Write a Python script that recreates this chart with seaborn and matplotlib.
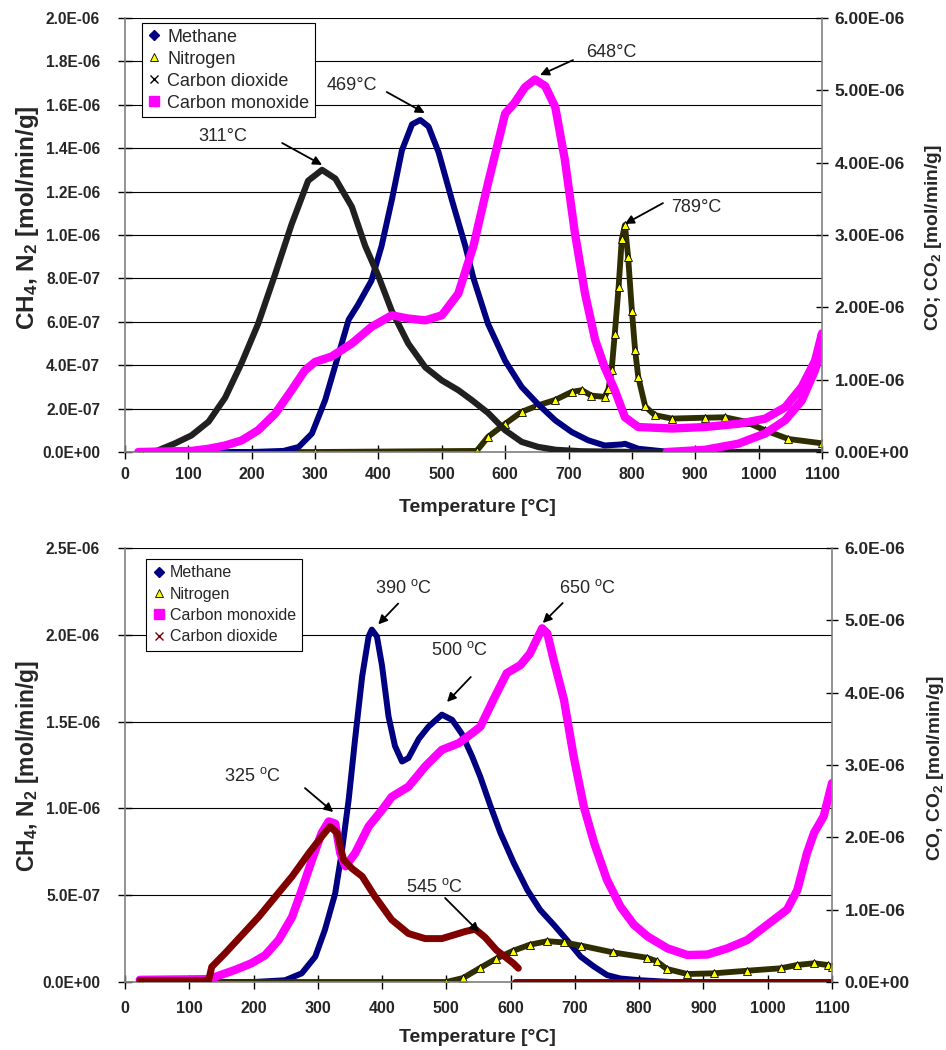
import numpy as np
import matplotlib
matplotlib.use("Agg")
import matplotlib.pyplot as plt
import seaborn as sns
from matplotlib.lines import Line2D
from matplotlib.ticker import FuncFormatter

sns.set_style("white")
plt.rcParams['font.family'] = ['Liberation Sans', 'DejaVu Sans']
plt.rcParams['mathtext.fontset'] = 'custom'
plt.rcParams['mathtext.rm'] = 'Liberation Sans'
plt.rcParams['mathtext.bf'] = 'Liberation Sans:bold'
plt.rcParams['mathtext.it'] = 'Liberation Sans:italic'

# ---------------- data: top chart (values in 1e-6 mol/min/g) ----------------
t_ch4_top = [25, 100, 200, 250, 274, 295, 316, 337, 353, 368, 389, 405, 421, 437, 453, 466, 479,
             495, 516, 537, 550, 573, 600, 626, 652, 679, 705, 731, 757, 784, 789, 810, 850, 950, 1100]
ch4_top = [0, 0, 0, 0.005, 0.023, 0.085, 0.24, 0.45, 0.61, 0.68, 0.79, 0.95, 1.16, 1.39, 1.51, 1.53, 1.50,
           1.38, 1.16, 0.95, 0.80, 0.59, 0.42, 0.30, 0.22, 0.146, 0.092, 0.054, 0.03, 0.035, 0.038, 0.015, 0.003, 0, 0]

t_n2_top = [25, 300, 555, 573, 600, 626, 652, 679, 705, 721, 736, 757, 763, 768, 773, 779, 784, 789, 794,
            800, 805, 810, 821, 836, 863, 915, 947, 979, 1010, 1047, 1100]
n2_top = [0, 0, 0.005, 0.07, 0.13, 0.185, 0.215, 0.24, 0.277, 0.285, 0.26, 0.254, 0.29, 0.377, 0.546, 0.76,
          0.98, 1.046, 0.90, 0.65, 0.47, 0.346, 0.21, 0.17, 0.154, 0.158, 0.16, 0.14, 0.10, 0.06, 0.04]

t_co2_top = [25, 50, 79, 105, 132, 158, 184, 210, 237, 263, 289, 311, 332, 358, 379, 400, 421, 447, 474,
             500, 526, 547, 573, 600, 626, 652, 680, 720, 800, 900, 1000, 1100]
co2_top = [0, 0.015, 0.12, 0.23, 0.42, 0.75, 1.23, 1.77, 2.46, 3.15, 3.75, 3.90, 3.78, 3.39, 2.85, 2.43,
           1.95, 1.50, 1.17, 0.99, 0.855, 0.72, 0.54, 0.30, 0.14, 0.07, 0.03, 0.01, 0, 0, 0, 0]

t_co_top = [21, 105, 132, 158, 184, 210, 237, 263, 284, 300, 326, 358, 389, 421, 447, 474, 500, 526, 550,
            573, 600, 615, 631, 647, 663, 679, 694, 710, 726, 742, 757, 773, 789, 810, 863, 915, 968, 1010,
            1042, 1068, 1089, 1100,
            1100, 1089, 1068, 1042, 1010, 968, 915, 855]
co_top = [0, 0.015, 0.045, 0.09, 0.16, 0.30, 0.53, 0.855, 1.13, 1.245, 1.32, 1.50, 1.73, 1.89, 1.845, 1.82,
          1.89, 2.19, 2.85, 3.72, 4.68, 4.83, 5.04, 5.15, 5.06, 4.77, 4.05, 3.03, 2.19, 1.55, 1.17, 0.855,
          0.48, 0.345, 0.325, 0.345, 0.39, 0.46, 0.62, 0.90, 1.26, 1.64,
          1.455, 1.13, 0.71, 0.44, 0.255, 0.115, 0.03, 0]

# ---------------- data: bottom chart ----------------
t_ch4_bot = [25, 200, 249, 275, 296, 311, 327, 337, 348, 358, 369, 379, 384, 392, 400, 410, 420, 431, 441,
             457, 472, 493, 509, 524, 540, 553, 569, 584, 605, 626, 646, 667, 688, 709, 730, 750, 771, 802,
             850, 1100]
ch4_bot = [0, 0, 0.01, 0.05, 0.146, 0.30, 0.51, 0.74, 1.05, 1.40, 1.76, 1.99, 2.03, 1.99, 1.82, 1.53, 1.36,
           1.27, 1.29, 1.40, 1.47, 1.54, 1.51, 1.43, 1.30, 1.18, 1.01, 0.86, 0.685, 0.53, 0.415, 0.33, 0.24,
           0.146, 0.088, 0.04, 0.02, 0.01, 0, 0]

t_n2_bot = [25, 500, 526, 552, 578, 604, 630, 657, 683, 709, 760, 812, 827, 843, 875, 916, 968, 1020, 1046,
            1072, 1093, 1100]
n2_bot = [0, 0, 0.023, 0.08, 0.135, 0.18, 0.215, 0.235, 0.228, 0.21, 0.17, 0.14, 0.12, 0.075, 0.046, 0.05,
          0.065, 0.079, 0.098, 0.108, 0.098, 0.088]

t_co_bot = [23, 135, 140, 171, 197, 218, 239, 260, 275, 291, 306, 317, 327, 335, 343, 358, 379, 400, 415,
            441, 467, 493, 519, 540, 553, 573, 594, 615, 630, 649, 657, 667, 683, 698, 714, 730, 750, 771,
            792, 813, 844, 875, 906, 937, 968, 999, 1030, 1046, 1061, 1072, 1087, 1100]
co_bot = [0.03, 0.04, 0.07, 0.166, 0.26, 0.37, 0.58, 0.90, 1.27, 1.69, 2.06, 2.22, 2.19, 1.78, 1.60, 1.78,
          2.15, 2.38, 2.56, 2.70, 2.98, 3.21, 3.30, 3.44, 3.53, 3.90, 4.27, 4.38, 4.54, 4.89, 4.82, 4.45,
          3.90, 3.12, 2.42, 1.92, 1.41, 1.04, 0.79, 0.63, 0.465, 0.373, 0.38, 0.465, 0.58, 0.79, 1.0, 1.27,
          1.78, 2.06, 2.29, 2.75]

t_co2_bot = [23, 130, 135, 156, 182, 208, 234, 260, 286, 306, 319, 330, 340, 353, 369, 389, 415, 441, 467,
             493, 519, 530, 545, 560, 578, 604, 612]
co2_bot = [0.02, 0.02, 0.21, 0.40, 0.65, 0.90, 1.18, 1.46, 1.78, 2.01, 2.15, 2.06, 1.69, 1.57, 1.46, 1.18,
           0.86, 0.67, 0.60, 0.60, 0.67, 0.70, 0.73, 0.62, 0.44, 0.26, 0.19]
t_co2_bot_tail = [607, 1100]
co2_bot_tail = [0, 0]

x_ticks = list(range(0, 1101, 100))
legend_top = ["Methane", "Nitrogen", "Carbon dioxide", "Carbon monoxide"]
legend_bot = ["Methane", "Nitrogen", "Carbon monoxide", "Carbon dioxide"]

NAVY, MAG, DRED = "#000080", "#FF00FF", "#800000"
N2LINE = "#2e2e00"
GRAY = "#808080"
S = 1e-6


def draw(ax, t, v, color, lw, **kw):
    sns.lineplot(x=np.array(t, float), y=np.array(v, float) * S, ax=ax, color=color, linewidth=lw,
                 sort=False, estimator=None, legend=False, **kw)


def n2_style():
    return dict(marker='^', markersize=6, markerfacecolor='#FFFF00', markeredgecolor='black',
                markeredgewidth=0.6)


def style_axes(ax, ax2, ymax_l, ystep_l, fmt_l, fmt_r, rsize, xpad):
    ax.set_xlim(0, 1100)
    ax.set_xticks(x_ticks)
    ax.set_ylim(0, ymax_l)
    ax.set_yticks(np.arange(0, ymax_l + ystep_l / 2, ystep_l))
    ax2.set_ylim(0, 6e-6)
    ax2.set_yticks(np.arange(0, 6.5e-6, 1e-6))
    ax.yaxis.set_major_formatter(FuncFormatter(lambda v, p: fmt_l.format(v)))
    ax2.yaxis.set_major_formatter(FuncFormatter(lambda v, p: fmt_r.format(v)))
    ax.grid(True, axis='y', color='black', linewidth=0.8)
    ax.grid(False, axis='x')
    for a in (ax, ax2):
        for s in a.spines.values():
            s.set_visible(False)
    ax.spines['left'].set_visible(True)
    ax.spines['bottom'].set_visible(True)
    ax2.spines['right'].set_visible(True)
    for s in (ax.spines['left'], ax.spines['bottom'], ax2.spines['right']):
        s.set_color(GRAY)
        s.set_linewidth(1.2)
    ax.tick_params(axis='y', which='major', direction='inout', length=10, width=1, color='black',
                   pad=13, labelsize=11.2, left=True)
    ax.tick_params(axis='x', which='major', direction='inout', length=10, width=1, color='black',
                   pad=xpad, labelsize=11.5, bottom=True)
    ax2.tick_params(axis='y', which='major', direction='inout', length=8, width=1, color='black',
                    pad=5, labelsize=rsize, right=True)
    for lab in ax.get_xticklabels() + ax.get_yticklabels() + ax2.get_yticklabels():
        lab.set_fontweight('bold')


def annot(ax2, ax, text, txy, start, tip):
    ax2.text(txy[0], txy[1], text, transform=ax.transData, ha='center', va='center', fontsize=13)
    ax2.annotate("", xy=tip, xytext=start, xycoords=ax.transData, textcoords=ax.transData,
                 arrowprops=dict(arrowstyle='-|>', color='black', lw=1.3, mutation_scale=13,
                                 shrinkA=0, shrinkB=0))


fig = plt.figure(figsize=(9.46, 10.5), dpi=100)

# ================= TOP =================
ax = fig.add_axes([125 / 946, 1 - 452 / 1050, 697 / 946, 434 / 1050])
ax2 = ax.twinx()
draw(ax, t_n2_top, n2_top, N2LINE, 4.2, **n2_style())
draw(ax, t_ch4_top, ch4_top, NAVY, 4.3)
draw(ax2, t_co2_top, co2_top, "#202020", 4.5)
draw(ax2, t_co_top, co_top, MAG, 6.0)
style_axes(ax, ax2, 2.0e-6, 0.2e-6, "{:.1E}", "{:.2E}", 12.5, 6)

ax.set_xlabel("Temperature [°C]", fontsize=14, fontweight='bold')
ax.xaxis.set_label_coords(0.505, -0.129)
ax.xaxis.label.set_va('center')
ax.set_ylabel(r"CH$_\mathbf{4}$, N$_\mathbf{2}$ [mol/min/g]", fontsize=17.5, fontweight='bold')
ax.yaxis.set_label_coords((28 - 125) / 697, 0.539)
ax.yaxis.label.set_va('center')
ax2.set_ylabel(r"CO; CO$_\mathbf{2}$ [mol/min/g]", fontsize=13.8, fontweight='bold', rotation=90)
ax2.yaxis.set_label_coords((933 - 125) / 697, 0.493)
ax2.yaxis.label.set_va('center')

annot(ax2, ax, "311°C", (155, 1.456e-6), (248, 1.424e-6), (311, 1.323e-6))
annot(ax2, ax, "469°C", (358, 1.691e-6), (413, 1.659e-6), (473, 1.562e-6))
annot(ax2, ax, "648°C", (767, 1.843e-6), (707, 1.806e-6), (655, 1.737e-6))
annot(ax2, ax, "789°C", (901, 1.129e-6), (849, 1.147e-6), (789, 1.051e-6))

h_top = [
    Line2D([], [], ls='none', marker='D', color=NAVY, markersize=5),
    Line2D([], [], ls='none', **n2_style()),
    Line2D([], [], ls='none', marker='x', color='black', markersize=6, markeredgewidth=1),
    Line2D([], [], ls='none', marker='s', color=MAG, markersize=7),
]
leg = ax2.legend(h_top, legend_top, loc='upper left', bbox_to_anchor=(0.024, 0.988), frameon=True,
                 fancybox=False, edgecolor='black', fontsize=13, handlelength=0.8, handletextpad=0.3,
                 borderaxespad=0, borderpad=0.3, labelspacing=0.28, framealpha=1)
leg.get_frame().set_linewidth(0.8)

# ================= BOTTOM =================
bx = fig.add_axes([125 / 946, 1 - 982 / 1050, 707 / 946, 434 / 1050])
bx2 = bx.twinx()
draw(bx, t_ch4_bot, ch4_bot, NAVY, 4.3)
draw(bx, t_n2_bot, n2_bot, N2LINE, 4.2, **n2_style())
draw(bx2, t_co_bot, co_bot, MAG, 6.0)
draw(bx2, t_co2_bot, co2_bot, DRED, 5.0)
draw(bx2, t_co2_bot_tail, co2_bot_tail, DRED, 5.0)
style_axes(bx, bx2, 2.5e-6, 0.5e-6, "{:.1E}", "{:.1E}", 12.5, 9)

bx.set_xlabel("Temperature [°C]", fontsize=14, fontweight='bold')
bx.xaxis.set_label_coords(0.499, -0.129)
bx.xaxis.label.set_va('center')
bx.set_ylabel(r"CH$_\mathbf{4}$, N$_\mathbf{2}$ [mol/min/g]", fontsize=16.5, fontweight='bold')
bx.yaxis.set_label_coords((28 - 125) / 707, 0.498)
bx.yaxis.label.set_va('center')
bx2.set_ylabel(r"CO, CO$_\mathbf{2}$ [mol/min/g]", fontsize=13.8, fontweight='bold', rotation=90)
bx2.yaxis.set_label_coords((935 - 125) / 707, 0.493)
bx2.yaxis.label.set_va('center')

deg = r"$^{\mathrm{o}}$C"
annot(bx2, bx, "390 " + deg, (434, 2.27e-6), (425, 2.18e-6), (394, 2.06e-6))
annot(bx2, bx, "500 " + deg, (520, 1.91e-6), (538, 1.757e-6), (501, 1.613e-6))
annot(bx2, bx, "650 " + deg, (720, 2.27e-6), (681, 2.183e-6), (650, 2.068e-6))
annot(bx2, bx, "325 " + deg, (198, 1.187e-6), (280, 1.117e-6), (324, 0.979e-6))
annot(bx2, bx, "545 " + deg, (482, 0.547e-6), (498, 0.484e-6), (551, 0.288e-6))

h_bot = [
    Line2D([], [], ls='none', marker='D', color=NAVY, markersize=5),
    Line2D([], [], ls='none', **n2_style()),
    Line2D([], [], ls='none', marker='s', color=MAG, markersize=7),
    Line2D([], [], ls='none', marker='x', color=DRED, markersize=6, markeredgewidth=1),
]
leg2 = bx2.legend(h_bot, legend_bot, loc='upper left', bbox_to_anchor=(0.0297, 0.975), frameon=True,
                  fancybox=False, edgecolor='black', fontsize=11.5, handlelength=0.8, handletextpad=0.3,
                  borderaxespad=0, borderpad=0.4, labelspacing=0.4, framealpha=1)
leg2.get_frame().set_linewidth(0.8)

fig.savefig("out.png", dpi=100)
